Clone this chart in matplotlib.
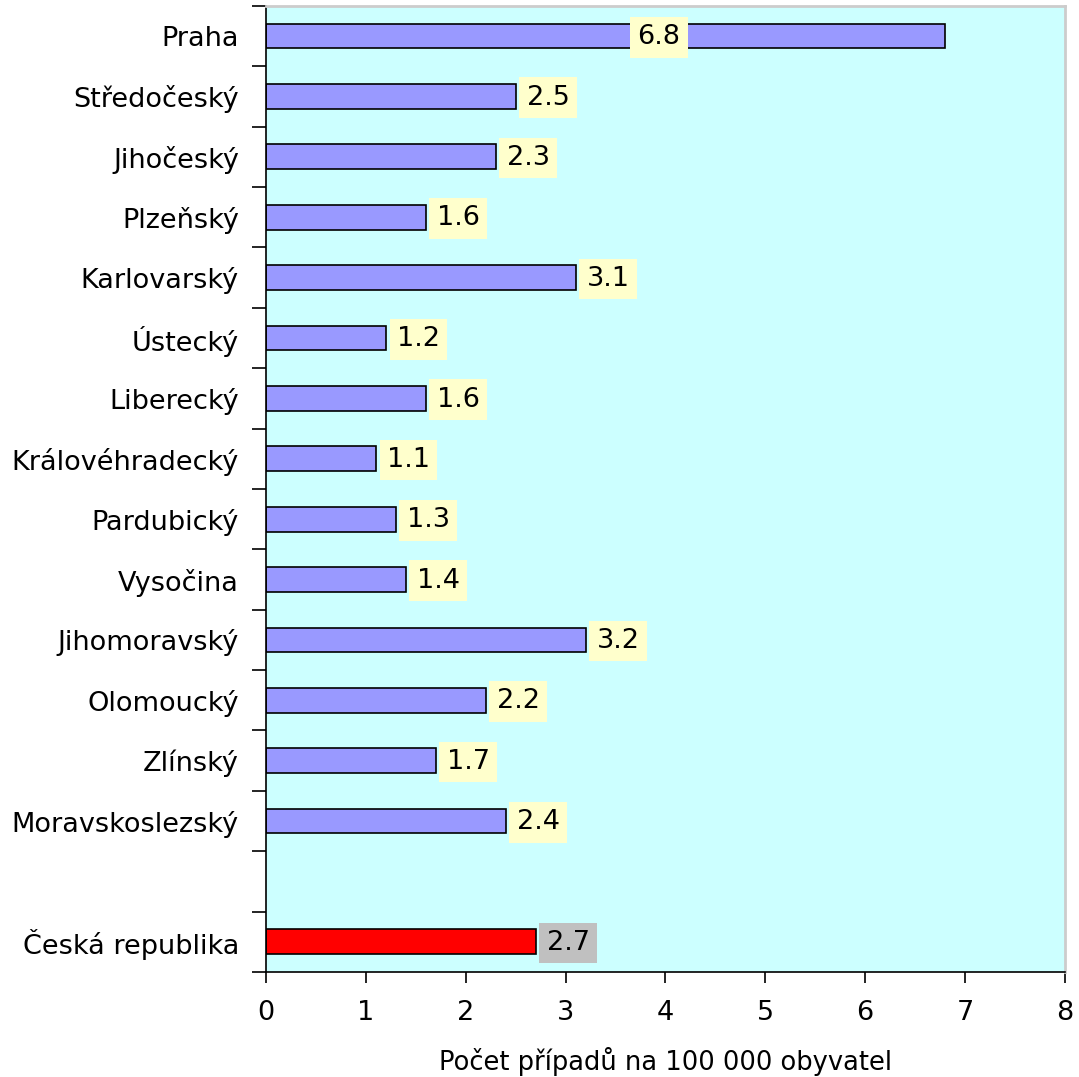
import numpy as np
import matplotlib.pyplot as plt

regions = ["Praha", "Středočeský", "Jihočeský", "Plzeňský", "Karlovarský",
           "Ústecký", "Liberecký", "Královéhradecký", "Pardubický", "Vysočina",
           "Jihomoravský", "Olomoucký", "Zlínský", "Moravskoslezský"]
values = [6.8, 2.5, 2.3, 1.6, 3.1, 1.2, 1.6, 1.1, 1.3, 1.4, 3.2, 2.2, 1.7, 2.4]
total_label = "Česká republika"
total_value = 2.7

xticks = [0, 1, 2, 3, 4, 5, 6, 7, 8]
xlabel = "Počet případů na 100 000 obyvatel"

# label of the longest bar sits inside the bar, as in the original
label_x_override = {"Praha": 3.72}

plt.rcParams['font.family'] = ['DejaVu Sans']
fs = 19.5

fig = plt.figure(figsize=(10.79, 10.77), dpi=100)
ax = fig.add_axes([0.2465, 0.0975, 0.7405, 0.897])
ax.set_facecolor("#CCFFFF")

names = regions + ["", total_label]
n = len(names)
pos = np.arange(n)
all_vals = values + [0, total_value]
colors = ["#9999FF"] * len(regions) + ["none", "#FF0000"]

for i, (v, c) in enumerate(zip(all_vals, colors)):
    if names[i] == "":
        continue
    ax.barh(pos[i], v, height=0.41, color=c, edgecolor="black", linewidth=1.2)

for i, v in enumerate(all_vals):
    name = names[i]
    if name == "":
        continue
    face = "#C0C0C0" if name == total_label else "#FFFFCC"
    if name in label_x_override:
        ax.text(label_x_override[name], pos[i] + 0.02, f"{v:.1f}", fontsize=fs,
                va="center", ha="left",
                bbox=dict(boxstyle="square,pad=0.27", fc=face, ec="none"))
    else:
        ax.annotate(f"{v:.1f}", (v, pos[i] + 0.02), xytext=(11, 0),
                    textcoords="offset pixels", fontsize=fs, va="center", ha="left",
                    bbox=dict(boxstyle="square,pad=0.27", fc=face, ec="none"))

ax.set_xlim(0, 8)
ax.set_ylim(n - 0.5, -0.5)
ax.set_xticks(xticks)
ax.set_xticklabels([str(t) for t in xticks], fontsize=fs)
ax.tick_params(axis="x", length=8, width=1.2, pad=12)
ax.set_xlabel(xlabel, fontsize=18.5, labelpad=15)

ax.set_yticks(np.arange(n + 1) - 0.5)
ax.set_yticklabels([])
ax.tick_params(axis="y", which="major", length=10, width=1.2)
ax.set_yticks(pos, minor=True)
ax.set_yticklabels(names, minor=True, fontsize=fs)
ax.tick_params(axis="y", which="minor", length=0, pad=19.5)

ax.spines["left"].set_linewidth(1.2)
ax.spines["bottom"].set_linewidth(1.2)
ax.spines["top"].set_color("#CCCCCC")
ax.spines["right"].set_color("#CCCCCC")
ax.spines["top"].set_linewidth(2)
ax.spines["right"].set_linewidth(2)

fig.savefig("out.png", dpi=100)
